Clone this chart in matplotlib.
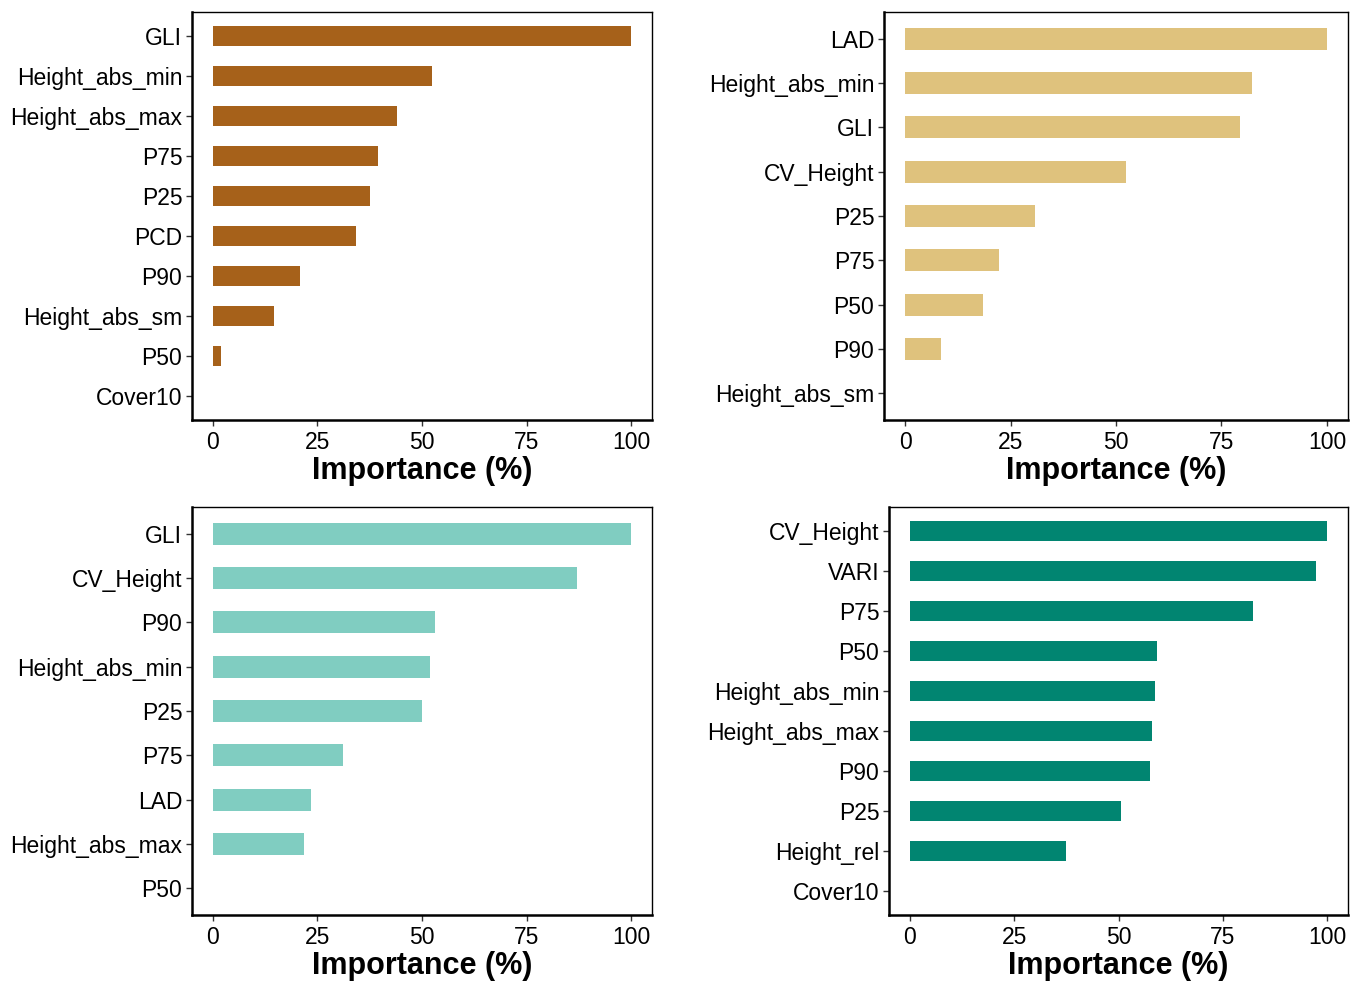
import matplotlib
matplotlib.use("Agg")
import matplotlib.pyplot as plt

plt.rcParams['font.family'] = ['Liberation Sans', 'DejaVu Sans']

# panel data, top to bottom as shown
tl_names = ['GLI', 'Height_abs_min', 'Height_abs_max', 'P75', 'P25', 'PCD',
            'P90', 'Height_abs_sm', 'P50', 'Cover10']
tl_vals = [100, 52.5, 43.9, 39.4, 37.5, 34.1, 20.8, 14.6, 1.9, 0]

tr_names = ['LAD', 'Height_abs_min', 'GLI', 'CV_Height', 'P25', 'P75',
            'P50', 'P90', 'Height_abs_sm']
tr_vals = [100, 82.3, 79.5, 52.4, 30.7, 22.2, 18.4, 8.5, 0]

bl_names = ['GLI', 'CV_Height', 'P90', 'Height_abs_min', 'P25', 'P75',
            'LAD', 'Height_abs_max', 'P50']
bl_vals = [100, 87.1, 53.2, 52.0, 50.1, 31.0, 23.4, 21.7, 0]

br_names = ['CV_Height', 'VARI', 'P75', 'P50', 'Height_abs_min',
            'Height_abs_max', 'P90', 'P25', 'Height_rel', 'Cover10']
br_vals = [100, 97.4, 82.3, 59.2, 58.7, 58.0, 57.5, 50.6, 37.5, 0]

ticks = [0, 25, 50, 75, 100]

fig = plt.figure(figsize=(13.59, 9.82), dpi=100)

panels = [
    ([0.1413, 0.5723, 0.3385, 0.4155], tl_names, tl_vals, '#A6611A'),
    ([0.6505, 0.5723, 0.3414, 0.4155], tr_names, tr_vals, '#DFC27D'),
    ([0.1413, 0.0682, 0.3385, 0.4155], bl_names, bl_vals, '#80CDC1'),
    ([0.6542, 0.0682, 0.3377, 0.4155], br_names, br_vals, '#018571'),
]

for rect, names, vals, col in panels:
    ax = fig.add_axes(rect)
    n = len(names)
    ypos = list(range(n, 0, -1))
    ax.barh(ypos, vals, height=0.5, color=col)
    ax.set_yticks(ypos)
    ax.set_yticklabels(names, fontsize=16.5)
    ax.set_ylim(0.4, n + 0.6)
    ax.set_xlim(-5, 105)
    ax.set_xticks(ticks)
    ax.set_xticklabels([str(t) for t in ticks], fontsize=16.5)
    ax.tick_params(length=4, width=1, color='#333333')
    ax.tick_params(axis='x', pad=4)
    ax.tick_params(axis='y', pad=3)
    ax.set_xlabel('Importance (%)', fontsize=22, fontweight='bold', labelpad=1)
    for s in ['left', 'bottom']:
        ax.spines[s].set_linewidth(1.8)
    for s in ['top', 'right']:
        ax.spines[s].set_linewidth(1.0)

fig.savefig('out.png', dpi=100)
